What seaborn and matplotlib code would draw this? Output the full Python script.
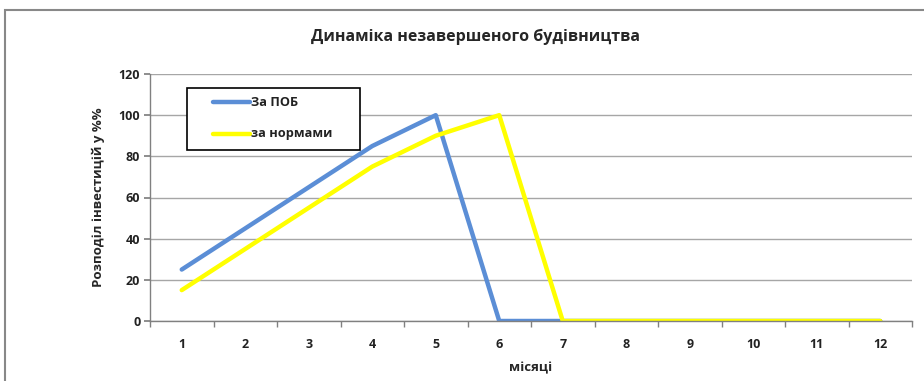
import matplotlib
matplotlib.use("Agg")
import matplotlib.pyplot as plt
import seaborn as sns
import pandas as pd
from matplotlib.patches import Rectangle
from matplotlib.lines import Line2D

months = list(range(1, 13))
pob = [25, 45, 65, 85, 100, 0, 0, 0, 0, 0, 0, 0]
norms = [15, 35, 55, 75, 90, 100, 0, 0, 0, 0, 0, 0]
series_names = ["За ПОБ", "за нормами"]
title = "Динаміка незавершеного будівництва"
xlabel = "місяці"
ylabel = "Розподіл інвестицій у %%"

df = pd.DataFrame({
    "month": months * 2,
    "value": pob + norms,
    "series": [series_names[0]] * 12 + [series_names[1]] * 12,
})

sns.set_theme(style="white")
plt.rcParams['font.family'] = ['Open Sans', 'DejaVu Sans']

W, H = 924, 381
fig = plt.figure(figsize=(W/100, H/100), dpi=100)
ax = fig.add_axes([150/W, 60/H, (912-150)/W, (321-74)/H])

colors = {series_names[0]: "#5B8ED6", series_names[1]: "#FFFF00"}
sns.lineplot(data=df, x="month", y="value", hue="series", palette=colors,
             linewidth=3.2, ax=ax, legend=False)

ax.set_xlim(0.5, 12.5)
ax.set_ylim(0, 120)
ax.set_yticks(range(0, 121, 20))
ax.set_xticks(months)
ax.set_xticks([m + 0.5 for m in range(0, 13)], minor=True)
ax.tick_params(axis="x", which="major", length=0, pad=12, labelsize=9)
ax.tick_params(axis="x", which="minor", length=4, color="#808080", direction="out")
ax.tick_params(axis="y", length=4, color="#808080", direction="out", labelsize=9, pad=3)
ax.xaxis.set_ticks_position("bottom")
ax.yaxis.set_ticks_position("left")
for lbl in ax.get_xticklabels() + ax.get_yticklabels():
    lbl.set_fontweight("bold")
    lbl.set_color("#222222")

ax.grid(axis="y", color="#A6A6A6", linewidth=1)
ax.set_axisbelow(True)
for s in ["top", "right"]:
    ax.spines[s].set_visible(False)
for s in ["left", "bottom"]:
    ax.spines[s].set_color("#808080")
    ax.spines[s].set_linewidth(1)

ax.set_xlabel(xlabel, fontsize=9.5, fontweight="bold", labelpad=8)
ax.set_ylabel(ylabel, fontsize=9.5, fontweight="bold", labelpad=10)
fig.text(475/W, 1 - 37/H, title, ha="center", va="center",
         fontsize=11.5, fontweight="bold")

# legend box (Excel style) in figure pixel coordinates
def fx(px):
    return px / W
def fy(py):
    return 1 - py / H

fig.patches.append(Rectangle((fx(187), fy(150)), fx(360) - fx(187), fy(88) - fy(150),
                             transform=fig.transFigure, facecolor="white",
                             edgecolor="black", linewidth=1.2, zorder=5))
for name, ypx in zip(series_names, [102, 134]):
    fig.lines.append(Line2D([fx(213), fx(250)], [fy(ypx), fy(ypx)],
                            transform=fig.transFigure, color=colors[name],
                            linewidth=3.2, zorder=6))
    fig.text(fx(251), fy(ypx), name, ha="left", va="center", fontsize=9.2,
             fontweight="bold", color="#222222", zorder=6)

fig.patches.append(Rectangle((5/W, -0.2), 1.2, 1.2 - 10/H, transform=fig.transFigure,
                             fill=False, edgecolor="#888888", linewidth=1.5))

fig.savefig("out.png", dpi=100)
